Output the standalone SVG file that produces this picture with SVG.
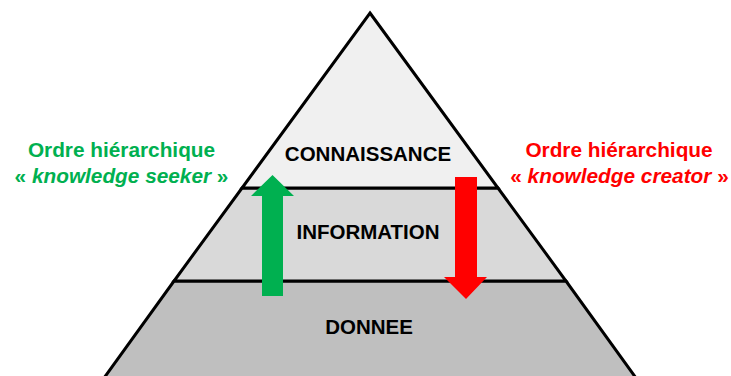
<svg xmlns="http://www.w3.org/2000/svg" width="731" height="376" viewBox="0 0 731 376">
<style>
.lvl{stroke:#000;stroke-width:3;stroke-linejoin:miter}
.lbl{font-family:"Liberation Sans",Arial,sans-serif;font-weight:bold;font-size:20.5px;text-anchor:middle;fill:#000}
.side{font-family:"Liberation Sans",Arial,sans-serif;font-weight:bold;font-size:20.8px;text-anchor:middle}
</style>
<rect width="731" height="376" fill="#fff"/>
<g id="donnee">
<polygon class="lvl" points="174,281 566,281 636,378 104,378" fill="#BFBFBF"/>
<text class="lbl" x="369" y="334">DONNEE</text>
</g>
<g id="information">
<polygon class="lvl" points="242,188 498,188 566,281 174,281" fill="#D9D9D9"/>
<text class="lbl" x="368" y="239">INFORMATION</text>
</g>
<g id="connaissance">
<polygon class="lvl" points="370,13 498,188 242,188" fill="#F0F0F0"/>
<text class="lbl" x="368" y="161">CONNAISSANCE</text>
</g>
<g id="connectors">
<polygon id="arrow-up" points="262,296 283,296 283,196 294,196 272.5,175 251,196 262,196" fill="#00B050"/>
<polygon id="arrow-down" points="455,177 477,177 477,277 487,277 466,299 444,277 455,277" fill="#FF0000"/>
</g>
<g id="seeker" fill="#00B050">
<text class="side" x="121.5" y="157">Ordre hiérarchique</text>
<text class="side" x="121.5" y="183">« <tspan font-style="italic">knowledge seeker</tspan> »</text>
</g>
<g id="creator" fill="#FF0000">
<text class="side" x="619" y="157">Ordre hiérarchique</text>
<text class="side" x="619.5" y="183">« <tspan font-style="italic">knowledge creator</tspan> »</text>
</g>
</svg>
